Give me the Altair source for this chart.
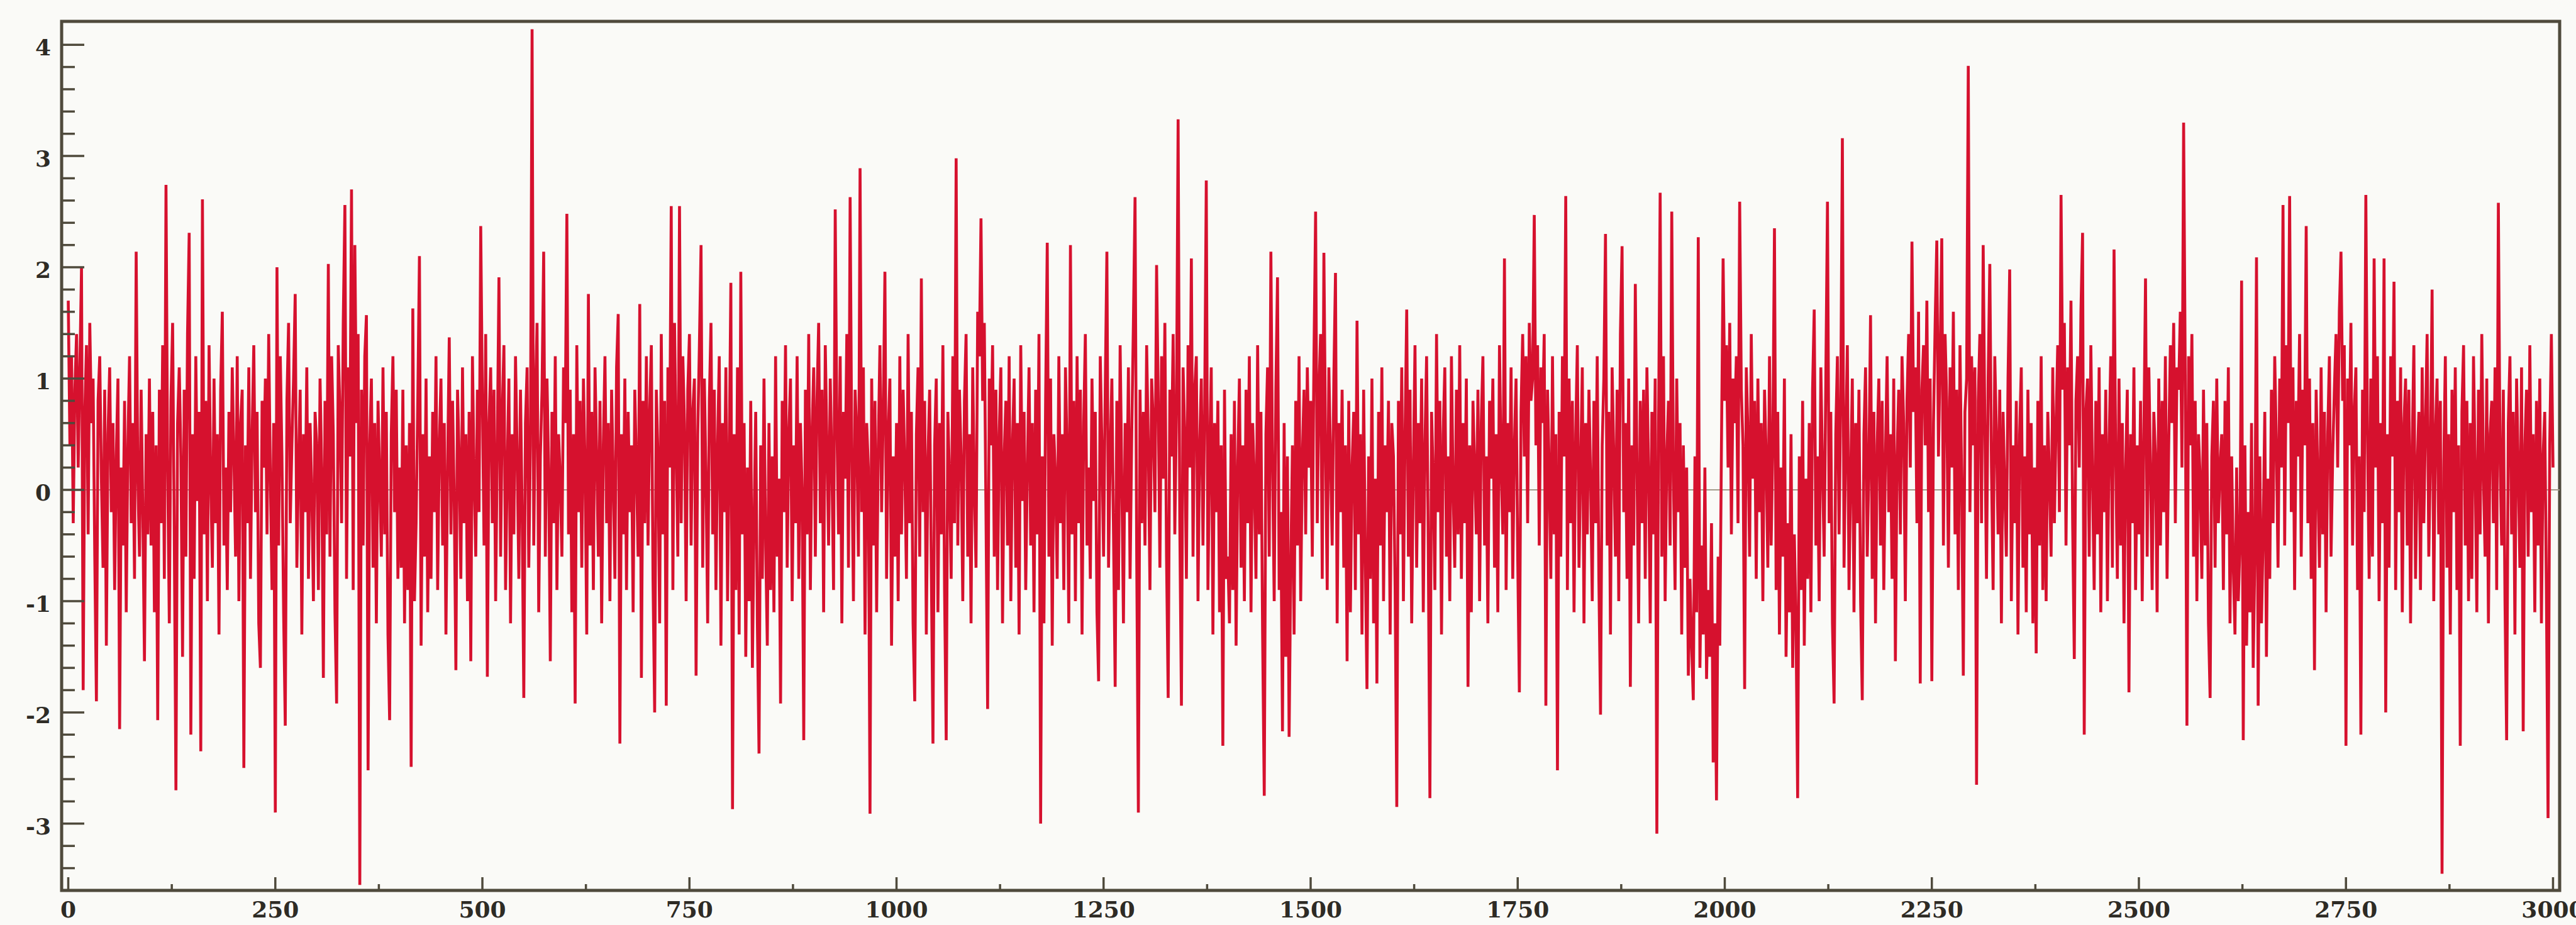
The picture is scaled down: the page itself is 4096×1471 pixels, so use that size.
import altair as alt
import pandas as pd

# Signal samples, one list per 100 time steps (sampled every 2 steps).
s0000 = [1.7, 0.4, 1.2, -0.3, 0.9, 1.4, 0.2, 1.1, 2.0, -1.8,
         0.7, 1.3, -0.4, 1.5, 0.6, 1.0, -0.6, -1.9, 0.8, 1.2,
         0.1, -0.7, 0.9, -1.4, 0.5, 1.1, -0.2, 0.6, -0.9, 0.3,
         1.0, -2.15, 0.2, -0.5, 0.8, -1.1, 0.4, 1.2, -0.3, 0.6,
         -0.8, 2.14, 0.1, -0.6, 0.9, -0.2, -1.54, 0.5, -0.4, 1.0]
s0100 = [-0.5, 0.7, -1.1, 0.4, -2.07, 0.9, -0.3, 1.3, -0.8, 2.74,
         0.2, -1.2, 0.8, 1.5, -0.4, -2.7, 0.6, 1.1, 0.3, -1.5,
         0.9, -0.6, 1.4, 2.31, -2.2, 0.5, -0.8, 1.2, -0.1, 0.7,
         -2.35, 2.61, -0.4, 0.8, -1.0, 1.3, 0.1, -0.7, 1.0, -0.3,
         0.5, -1.3, 0.9, 1.6, -0.5, 0.2, -0.9, 0.7, -0.2, 1.1]
s0200 = [0.3, -0.6, 1.2, -1.0, 0.6, 0.9, -2.5, 0.4, -0.3, 1.1,
         -0.8, 0.5, 1.3, -0.2, 0.7, -1.2, -1.6, 0.8, 0.2, 1.0,
         -0.4, 1.4, 0.1, -0.9, 0.6, -2.9, 2.0, -0.5, 1.2, 0.3,
         -1.1, -2.12, 0.8, 1.5, -0.3, 0.4, 1.0, 1.76, -0.7, 0.2,
         0.9, -1.3, 0.5, -0.2, 1.1, -0.8, 0.6, 0.0, -1.0, 0.7]
s0300 = [0.4, -0.9, 1.0, 0.2, -1.69, 0.8, -0.4, 2.03, -0.6, 1.2,
         0.5, -1.1, -1.92, 1.3, 0.7, -0.3, 1.5, 2.56, -0.8, 1.1,
         0.3, 2.70, -0.9, 2.2, 0.6, 1.4, -3.55, 0.9, -0.5, 1.2,
         1.57, -2.52, 0.4, 1.0, -0.7, 0.6, -1.2, 0.8, 0.1, -0.6,
         1.1, -0.4, 0.7, -1.3, -2.07, 0.5, 1.2, -0.2, 0.9, -0.8]
s0400 = [0.2, -0.7, 0.9, -1.2, 0.4, -0.9, 0.6, -2.49, 1.63, -1.0,
         -0.3, 0.8, 2.1, -1.4, 0.5, -0.6, 1.0, -1.1, 0.3, -0.8,
         0.7, -0.2, 1.2, -0.9, 0.4, 1.0, -0.5, 0.6, -1.3, 0.2,
         1.37, -0.4, 0.8, -0.1, -1.62, 0.9, 0.3, -0.8, 1.1, -0.3,
         0.5, -1.0, 0.7, -1.54, 1.2, 0.1, -0.6, 0.9, -0.2, 2.37]
s0500 = [0.8, -0.5, 1.4, -1.68, 0.6, 1.1, -0.3, 0.9, -1.0, 0.4,
         1.91, -0.6, 0.7, 1.3, -0.9, 0.2, 1.0, -1.2, 0.5, -0.4,
         1.2, 0.3, -0.8, 0.9, -0.2, -1.87, 0.6, 1.1, -0.7, 0.4,
         4.14, -0.5, 0.8, 1.5, -1.1, 0.3, 0.9, 2.14, -0.6, 1.0,
         0.2, -1.54, 0.7, -0.3, 1.2, -0.9, 0.5, 0.1, -0.6, 1.1]
s0600 = [0.6, 2.48, -0.4, 0.9, -1.1, 0.5, -1.92, 1.3, -0.2, 0.8,
         -0.7, 1.0, 0.2, -1.3, 1.76, -0.5, 0.7, -0.9, 1.1, 0.3,
         -0.6, 0.8, -1.2, 0.4, 1.2, -0.3, 0.6, -1.0, 0.9, 0.1,
         -0.8, 1.1, 1.58, -2.28, 0.5, -0.4, 1.0, -0.9, 0.7, -0.2,
         0.4, -1.1, 0.9, 0.2, -0.6, 1.67, -1.69, 0.8, -0.3, 1.2]
s0700 = [-0.5, 0.7, 1.3, -0.8, -2.0, 0.9, 0.3, -1.2, 1.4, -0.4,
         0.8, -1.94, 1.1, 0.2, 2.55, -0.9, 1.5, 0.4, -0.6, 2.55,
         -0.3, 1.2, 0.6, -1.0, 0.9, 1.4, -0.5, 0.7, 1.0, -1.67,
         0.5, 1.3, 2.2, -0.7, 1.0, 0.1, -1.2, 0.8, 1.5, -0.4,
         0.9, -0.9, 0.4, 1.2, -1.4, 0.6, -0.2, 1.1, -1.0, 0.3]
s0800 = [1.86, -2.87, 0.5, -0.9, 1.1, -1.3, 1.96, -0.4, 0.6, -1.5,
         0.2, -1.0, 0.8, -1.6, -0.3, 0.7, -1.2, -2.37, 0.4, -0.8,
         1.0, -0.5, -1.4, 0.6, -0.9, 0.3, -1.1, 1.2, -0.6, 0.1,
         -1.92, 0.8, -0.2, 1.3, -0.7, 0.5, 1.0, -1.0, 0.4, -0.3,
         1.2, -0.8, 0.6, 0.0, -2.25, 0.9, -0.4, 1.4, -0.9, 0.5]
s0900 = [1.1, -0.6, 0.8, 1.5, -0.3, 0.9, -1.1, 1.3, 0.4, -0.5,
         1.0, 0.2, -0.9, 2.52, 0.6, -0.4, 1.2, -1.2, 0.7, 0.1,
         1.4, -0.7, 2.63, 0.3, -1.0, 0.9, 0.5, -0.6, 2.89, -0.2,
         1.1, -1.3, 0.6, 0.2, -2.91, 1.0, -0.5, 0.8, -1.1, 0.4,
         1.3, -0.2, 0.7, 1.96, -0.8, 0.5, 1.0, -1.4, 0.3, -0.6]
s1000 = [0.6, -1.0, 1.2, -0.4, 0.9, 0.2, -0.8, 1.4, -0.3, 0.7,
         -1.2, -1.9, 0.5, 1.1, -0.6, 1.9, -0.2, 0.8, -1.3, 0.3,
         0.9, -0.7, -2.28, 0.4, 1.0, -1.1, 0.6, -0.4, 1.3, -0.9,
         -2.25, 0.7, 0.1, -0.8, 1.2, -0.3, 2.98, -0.5, 0.9, 0.3,
         -1.0, 0.8, 1.4, -0.6, 0.5, -1.2, 1.1, 0.0, -0.7, 1.6]
s1100 = [1.2, 2.44, 0.8, 1.5, -0.2, -1.97, 1.0, 0.4, 1.3, -0.6,
         0.9, -0.9, 0.5, 1.1, -1.2, 0.3, 0.8, -0.5, 1.2, -1.0,
         0.4, 1.0, -0.7, 0.6, -1.3, 1.3, -0.1, 0.7, -0.9, 0.2,
         1.1, -0.5, 0.6, -1.1, 0.9, -0.4, 1.4, -3.0, 0.3, -1.2,
         0.8, 2.22, -0.6, 1.0, -1.4, 0.5, 0.1, -0.8, 1.2, -0.3]
s1200 = [0.5, -0.9, 1.1, 0.3, -1.2, 2.2, -0.4, 0.8, -1.0, 1.2,
         -0.3, 0.9, -1.3, 0.6, 1.4, -0.5, 0.2, -0.8, 1.0, -0.1,
         0.7, -1.1, -1.72, 1.2, 0.4, -0.6, 0.9, 2.14, -0.7, 0.3,
         1.0, -0.4, -1.77, 0.8, -0.9, 1.3, 0.1, -1.2, 0.6, -0.2,
         1.1, -0.8, 0.5, 1.5, 2.63, -0.6, -2.9, 0.9, -0.3, 0.7]
s1300 = [-0.5, 1.3, 0.4, -0.9, 1.0, 0.6, -0.2, 2.02, 0.8, -0.7,
         1.2, 0.1, 1.5, -0.6, -1.87, 0.9, 0.3, 1.4, -0.4, 0.7,
         3.33, -0.3, -1.94, 1.1, 0.5, -0.8, 1.3, 0.2, 2.08, -0.6,
         0.9, 1.2, -1.0, 0.4, 1.0, -0.5, 0.7, 2.78, -0.9, 0.3,
         1.1, -1.3, 0.6, -0.2, 0.8, -1.1, 0.4, -2.3, 0.9, -0.8]
s1400 = [-0.6, -1.2, 0.5, -0.9, 0.8, -1.4, 0.2, 1.0, -0.7, 0.4,
         -1.0, 0.9, -0.3, 1.2, -1.1, 0.6, 0.1, -0.8, 1.3, -0.4,
         0.7, -1.3, -2.75, 0.5, 1.1, -0.6, 2.14, 0.2, -1.0, 0.9,
         1.91, -0.9, -0.2, -2.17, 0.6, -1.5, 0.3, -2.22, -0.7, 0.4,
         -1.3, 0.8, -0.5, 1.2, -1.0, 0.3, 0.9, -0.4, 1.1, 0.2]
s1500 = [0.8, -0.6, 1.2, 2.5, -0.3, 0.9, 1.4, -0.8, 2.13, 0.4,
         -0.9, 1.1, 0.3, -0.5, 1.0, 1.95, -1.2, 0.6, -0.2, 0.9,
         -0.7, 0.4, -1.54, 0.8, -1.1, 0.2, 0.7, -0.9, 1.52, -0.4,
         0.5, -1.3, 0.9, -0.6, -1.79, 0.3, -0.8, 1.0, -1.2, 0.1,
         -1.74, 0.7, -0.5, 1.1, -1.0, 0.4, -0.2, 0.8, -1.3, 0.6]
s1600 = [0.3, -0.9, -2.85, 0.8, -0.4, 1.1, -1.0, 0.5, 1.62, -0.6,
         0.9, -1.2, 0.2, 1.3, -0.7, 0.6, -0.3, 1.0, -1.1, 0.4,
         1.2, -0.5, -2.77, 0.7, 0.1, -0.9, 1.4, -0.2, 0.8, -1.3,
         0.5, 1.1, -0.6, 0.3, -1.0, 1.2, 0.0, -0.7, 0.9, -0.4,
         1.3, -0.8, 0.6, -0.3, 1.0, -1.77, 0.4, -1.1, 0.8, 0.2]
s1700 = [-0.4, 0.9, -1.0, 0.6, 1.2, -0.5, 0.3, -1.2, 0.8, 0.1,
         1.0, -0.7, 0.5, -1.1, 1.3, 0.2, -0.4, 2.08, -0.9, 0.6,
         -0.2, 1.1, -0.8, 0.4, 1.0, -0.6, -1.82, 0.7, 1.4, 0.3,
         1.2, -0.3, 1.5, 0.8, 1.0, 2.47, 0.4, 1.3, -0.5, 1.1,
         0.6, 1.4, -1.94, 0.9, 0.2, -0.8, 1.2, -0.4, 0.5, -2.52]
s1800 = [0.7, -0.6, 1.2, 0.3, 2.64, -0.9, 1.0, -0.3, 0.8, -1.1,
         0.5, 1.3, -0.7, 0.2, 1.1, -1.2, 0.6, -0.4, 0.9, 0.1,
         -1.0, 0.8, -0.3, 1.2, -0.8, -2.02, 0.4, 1.0, 2.3, -0.5,
         0.7, -1.3, 1.1, 0.3, -0.6, 0.9, -1.0, 1.4, 2.19, -0.2,
         0.6, -0.8, 1.0, -1.77, 0.4, -0.5, 1.85, 0.2, -1.2, 0.8]
s1900 = [-0.3, 0.9, -0.8, 1.1, 0.2, -1.2, 0.7, -0.4, 1.0, -3.09,
         0.5, 2.67, -0.6, 1.2, -1.0, 0.3, 0.8, -0.5, 2.5, 0.1,
         -0.9, 1.0, -0.2, 0.6, -1.3, 0.4, -0.7, 0.2, -1.67, -0.8,
         -1.4, -1.89, 0.3, -1.1, 2.27, -1.6, -0.5, -1.3, 0.2, -1.7,
         -0.9, -1.5, -0.3, -2.45, -1.2, -2.79, -0.6, -1.4, 0.4, 2.08]
s2000 = [0.8, 1.3, 0.2, 1.5, -0.4, 1.0, 0.6, 1.2, -0.3, 2.59,
         0.9, 0.4, -1.79, 1.1, 0.5, -0.6, 1.4, 0.1, 0.8, -0.8,
         1.0, -0.2, 0.6, -1.0, 0.9, 0.3, -0.7, 1.2, -0.5, 0.4,
         2.35, -0.9, 0.7, -1.3, 0.2, -0.6, 1.0, -1.5, -0.3, -1.1,
         0.5, -1.6, -0.4, -1.2, -2.77, 0.3, -0.9, 0.8, -1.4, 0.1]
s2100 = [-0.8, 0.6, -1.1, 0.9, 1.62, -0.5, 0.3, -1.0, 1.1, 0.2,
         -0.6, 1.0, 2.59, -0.3, 0.7, -1.2, -1.92, 0.5, 1.2, -0.4,
         0.8, 3.16, -0.7, 0.4, 1.3, -0.9, 0.1, 1.0, -1.1, 0.6,
         -0.3, 0.9, -1.0, -1.89, 0.5, 1.1, -0.6, 0.2, 1.57, -0.8,
         0.7, -1.2, 0.4, 1.0, -0.5, 0.8, -0.9, 0.3, 1.2, -0.2]
s2200 = [0.5, -0.8, 1.0, -1.54, 0.3, 0.9, -0.4, 1.2, 0.6, -1.0,
         0.8, 1.4, 0.2, 2.23, 0.7, 1.1, -0.3, 1.6, -1.74, 0.9,
         1.3, 0.4, 1.7, -0.2, 1.0, -1.72, 0.6, 1.5, 2.24, 0.3,
         1.2, 2.26, -0.5, 1.4, 0.8, -0.7, 1.1, 0.2, 1.6, -0.4,
         0.9, -0.9, 1.3, 0.1, -1.67, 0.7, 1.0, 3.81, -0.2, 1.2]
s2300 = [0.4, 1.1, -2.65, 0.8, 1.4, -0.3, 2.2, 0.6, -0.8, 1.0,
         2.03, 0.2, -0.9, 1.2, 0.5, -0.4, 0.9, -1.2, 0.7, 0.0,
         -0.6, 1.0, 1.98, -1.0, 0.4, -0.3, 0.8, -1.3, 0.5, 1.1,
         -0.7, 0.3, -1.1, 0.9, -0.4, 0.6, -1.2, 0.2, -1.47, 0.8,
         -0.5, 1.2, -0.9, 0.4, -1.0, 0.7, 0.1, -0.6, 1.1, -0.3]
s2400 = [0.6, 1.3, -0.2, 2.65, 0.9, 1.5, -0.5, 1.1, 0.4, 1.7,
         -0.3, -1.52, 0.8, 1.2, 0.2, 1.6, 2.31, -2.2, 0.7, 1.0,
         -0.6, 1.3, 0.1, -0.9, 0.8, -0.4, 1.1, -1.1, 0.5, -0.2,
         0.9, -1.0, 0.4, 1.2, -0.7, 2.16, 0.3, -0.8, 1.0, -0.5,
         0.6, -1.2, 0.2, 0.9, -1.82, 0.5, -0.3, 1.1, -0.9, 0.4]
s2500 = [-0.4, 0.8, -1.0, 0.5, 1.9, -0.6, 1.1, 0.2, -0.9, 0.7,
         0.3, -1.1, 1.0, -0.5, 0.8, -0.2, 1.2, -0.8, 0.4, 1.3,
         0.6, 1.5, -0.3, 1.1, 0.9, 1.6, 0.2, 3.3, 1.0, -2.12,
         1.2, 0.4, 1.4, -0.6, 0.8, -1.0, 0.5, 0.1, -0.8, 0.9,
         -0.5, 0.6, -1.2, -1.87, 0.3, 0.8, -0.7, 1.0, -0.3, 0.2]
s2600 = [0.5, -0.9, 0.8, -0.4, 1.1, -1.2, 0.3, -0.7, -1.3, 0.2,
         -1.0, -0.5, 1.88, -2.25, 0.4, -1.4, -0.2, -1.1, 0.6, -1.6,
         -0.6, 2.09, -1.94, 0.3, -1.2, -0.4, 0.7, -1.5, 0.1, -0.8,
         0.9, -0.3, 1.2, 0.4, -0.7, 1.0, 0.2, 2.56, -0.5, 1.3,
         0.6, 2.64, -0.2, 1.1, -0.9, 0.8, 0.3, 1.4, -0.6, 0.9]
s2700 = [0.4, 2.37, -0.3, 1.0, -0.8, 0.6, -1.62, 0.9, 0.1, -0.7,
         1.1, -0.4, 0.7, -1.1, 0.5, 1.2, -0.6, 0.3, 0.9, 1.4,
         0.2, 1.6, 2.14, 0.8, 1.3, -2.3, 1.0, 0.4, 1.5, -0.5,
         0.7, 1.1, -0.9, 0.3, -2.2, 0.9, -0.2, 2.65, 0.5, -0.8,
         1.0, -0.6, 2.08, 0.2, 1.2, -1.0, 0.6, -0.3, 2.08, -2.0]
s2800 = [0.5, -0.7, 1.2, 0.3, 1.87, -0.9, 0.8, -0.2, 1.1, -1.1,
         0.6, 1.0, -0.5, 0.9, -1.2, 0.4, 1.3, -0.8, 0.2, 0.7,
         -0.9, 1.1, -0.3, 0.6, 1.4, -0.6, 0.3, 1.8, -1.0, 0.5,
         1.0, -0.4, 0.8, -3.45, 0.2, 1.2, -0.7, 0.5, -1.3, 0.9,
         -0.2, 1.1, -0.9, 0.4, -2.3, 0.7, 1.3, -0.5, 0.8, -1.0]
s2900 = [0.6, -0.8, 1.2, 0.2, -1.1, 0.9, -0.4, 1.4, 0.1, -0.6,
         1.0, -1.2, 0.5, 0.8, -0.3, 1.1, -0.9, 2.58, 0.3, -0.5,
         0.9, -1.0, -2.25, 0.6, 1.2, -0.4, 0.7, -1.3, 1.0, 0.2,
         -0.7, 1.1, -2.17, 0.4, 0.9, -0.6, 1.3, -0.2, 0.5, -1.1,
         0.8, -0.5, 1.0, -1.2, 0.3, 0.7, -0.9, -2.95, 0.4, 1.4,
         0.2]

blocks = [s0000, s0100, s0200, s0300, s0400, s0500, s0600, s0700, s0800, s0900,
          s1000, s1100, s1200, s1300, s1400, s1500, s1600, s1700, s1800, s1900,
          s2000, s2100, s2200, s2300, s2400, s2500, s2600, s2700, s2800, s2900]

# Axis ticks and labels
x_labels = [0, 250, 500, 750, 1000, 1250, 1500, 1750, 2000, 2250, 2500, 2750, 3000]
x_minor = [125, 375, 625, 875, 1125, 1375, 1625, 1875, 2125, 2375, 2625, 2875]
y_labels = [-3, -2, -1, 0, 1, 2, 3, 4]
y_minor = [v / 10 for v in range(-34, 40, 2) if v % 10 != 0]

t_vals, y_vals = [], []
for base, block in zip(range(0, 3000, 100), blocks):
    for i, val in enumerate(block):
        t_vals.append(base + 2 * i)
        y_vals.append(val)
signal = pd.DataFrame({"t": t_vals, "v": y_vals})

W, H = 3972, 1382
FRAME = "#4f4a3c"
LABEL_FONT = "DejaVu Serif"
LABEL_COLOR = "#2e2b25"

x_scale = alt.Scale(domain=[-8, 3008], nice=False, zero=False)
y_scale = alt.Scale(domain=[-3.6, 4.21], nice=False, zero=False)

zero_line = alt.Chart(pd.DataFrame({"v": [0]})).mark_rule(
    color="#a39b8b", strokeWidth=2
).encode(y=alt.Y("v:Q", scale=y_scale, axis=None))

trace = alt.Chart(signal).mark_line(color="#d6112e", strokeWidth=4.6).encode(
    x=alt.X("t:Q", scale=x_scale, axis=None),
    y=alt.Y("v:Q", scale=y_scale, axis=None),
)

y_major_ticks = alt.Chart(pd.DataFrame({"v": y_labels})).mark_rule(
    color=FRAME, strokeWidth=3.5
).encode(y=alt.Y("v:Q", scale=y_scale, axis=None), x=alt.value(0), x2=alt.value(36))

y_minor_ticks = alt.Chart(pd.DataFrame({"v": y_minor})).mark_rule(
    color=FRAME, strokeWidth=3.5
).encode(y=alt.Y("v:Q", scale=y_scale, axis=None), x=alt.value(0), x2=alt.value(21))

x_major_ticks = alt.Chart(pd.DataFrame({"t": x_labels})).mark_rule(
    color=FRAME, strokeWidth=3.5
).encode(x=alt.X("t:Q", scale=x_scale, axis=None), y=alt.value(H), y2=alt.value(H - 21))

x_minor_ticks = alt.Chart(pd.DataFrame({"t": x_minor})).mark_rule(
    color=FRAME, strokeWidth=3.5
).encode(x=alt.X("t:Q", scale=x_scale, axis=None), y=alt.value(H), y2=alt.value(H - 10))

x_tick_text = alt.Chart(
    pd.DataFrame({"t": x_labels, "label": [str(v) for v in x_labels]})
).mark_text(
    font=LABEL_FONT, fontSize=36, fontWeight="bold", color=LABEL_COLOR,
    align="center", baseline="top",
).encode(x=alt.X("t:Q", scale=x_scale, axis=None), y=alt.value(H + 15), text="label:N")

y_tick_text = alt.Chart(
    pd.DataFrame({"v": y_labels, "label": [str(v) for v in y_labels]})
).mark_text(
    font=LABEL_FONT, fontSize=36, fontWeight="bold", color=LABEL_COLOR,
    align="right", baseline="middle", dy=6,
).encode(y=alt.Y("v:Q", scale=y_scale, axis=None), x=alt.value(-17), text="label:N")

chart = alt.layer(
    zero_line, trace, y_major_ticks, y_minor_ticks, x_major_ticks, x_minor_ticks,
    x_tick_text, y_tick_text,
).properties(
    width=W,
    height=H,
    autosize=alt.AutoSizeParams(type="none"),
    padding={"left": 98, "top": 34, "right": 26, "bottom": 55},
    background="#fafaf7",
).configure_view(
    stroke=FRAME, strokeWidth=5, fill="#fafaf7"
)

chart.save("out.html", embed_options={"renderer": "svg", "actions": False})
